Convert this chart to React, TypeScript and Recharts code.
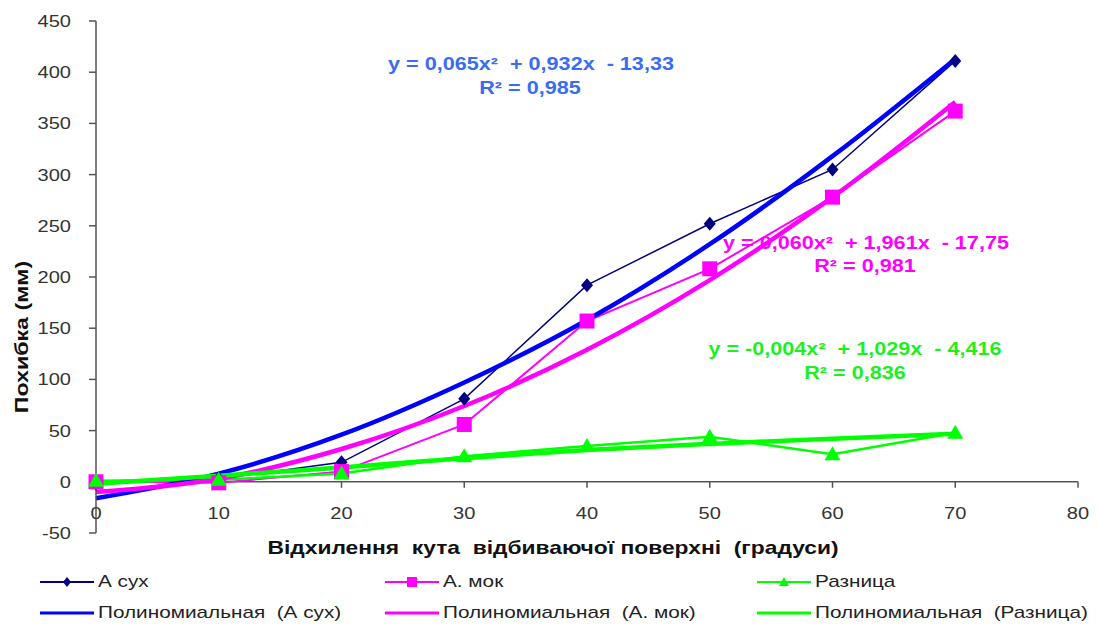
import React from "react";
import { LineChart, Line, XAxis, YAxis, ReferenceLine, ReferenceDot } from "recharts";

const angles = [0, 10, 20, 30, 40, 50, 60, 70];
const aSukh = [-2, 3, 19, 81, 192, 252, 305, 411];
const aMok = [0, -1, 10, 56, 157, 208, 278, 362];
const raznitsa = [1, 2, 8, 25, 35, 44, 27, 48];
// trend curves
const trendSukh = [-16, 8, 46, 97, 158, 232, 318, 413];
const trendMok = [-10, 3, 32, 74, 129, 197, 278, 371];
const trendRazn = [-2, 6, 14, 23, 31, 37, 42, 47];

const xTicks = [0, 10, 20, 30, 40, 50, 60, 70, 80];
const yTicks = [-50, 0, 50, 100, 150, 200, 250, 300, 350, 400, 450];

const data = angles.map((a, i) => ({
  angle: a,
  aSukh: aSukh[i],
  aMok: aMok[i],
  raznitsa: raznitsa[i],
  trendSukh: trendSukh[i],
  trendMok: trendMok[i],
  trendRazn: trendRazn[i],
}));

const FONT = "'Liberation Sans', Arial, sans-serif";
const NAVY = "#000080";
const BLUE = "#0000ff";
const PINK = "#ff00ff";
const GREEN = "#00ff00";

const Diamond = ({ cx, cy }: any) =>
  cx == null ? null : (
    <path d={`M${cx},${cy - 7}L${cx + 6},${cy}L${cx},${cy + 7}L${cx - 6},${cy}Z`} fill={NAVY} />
  );
const Square = ({ cx, cy }: any) =>
  cx == null ? null : <rect x={cx - 7.5} y={cy - 7.5} width={15} height={15} fill={PINK} />;
const Triangle = ({ cx, cy }: any) =>
  cx == null ? null : (
    <path d={`M${cx},${cy - 8}L${cx + 8},${cy + 6}L${cx - 8},${cy + 6}Z`} fill={GREEN} />
  );

const YTick = ({ x, y, payload }: any) => (
  <text
    transform={`translate(${x},${y}) scale(1.18,1)`}
    textAnchor="end"
    dominantBaseline="central"
    fontSize={17}
    fill="#333"
    fontFamily={FONT}
  >
    {payload.value}
  </text>
);

const XTickShape = ({ cx, cy, value }: any) => (
  <g>
    <line x1={cx} x2={cx} y1={cy} y2={cy + 6} stroke="#555" strokeWidth={1.5} />
    <text
      transform={`translate(${cx},${cy + 31}) scale(1.18,1)`}
      textAnchor="middle"
      dominantBaseline="central"
      fontSize={17}
      fill="#333"
      fontFamily={FONT}
    >
      {value}
    </text>
  </g>
);

const legendItems = [
  { label: "А сух", color: NAVY, marker: "diamond", w: 2, col: 40, row: 582 },
  { label: "А. мок", color: PINK, marker: "square", w: 2, col: 385, row: 582 },
  { label: "Разница", color: GREEN, marker: "triangle", w: 2, col: 757, row: 582 },
  { label: "Полиномиальная  (А сух)", color: BLUE, marker: "", w: 3, col: 40, row: 613 },
  { label: "Полиномиальная  (А. мок)", color: PINK, marker: "", w: 3, col: 385, row: 613 },
  { label: "Полиномиальная  (Разница)", color: GREEN, marker: "", w: 3, col: 757, row: 613 },
];

function LegendIcon({ color, marker, w }: any) {
  return (
    <svg width={54} height={14} style={{ display: "block" }}>
      <line x1={0} x2={54} y1={7} y2={7} stroke={color} strokeWidth={w} />
      {marker === "diamond" && <path d="M27,2L31,7L27,12L23,7Z" fill={color} />}
      {marker === "square" && <rect x={22} y={2} width={10} height={10} fill={color} />}
      {marker === "triangle" && <path d="M27,2L32,11L22,11Z" fill={color} />}
    </svg>
  );
}

const eqStyle = (color: string, cx: number, cy: number): React.CSSProperties => ({
  position: "absolute",
  left: cx,
  top: cy,
  transform: "translate(-50%,-50%) scaleX(1.2)",
  color,
  fontFamily: FONT,
  fontWeight: "bold",
  fontSize: 18,
  whiteSpace: "pre",
  lineHeight: 1,
});

export default function App() {
  return (
    <div style={{ position: "absolute", left: 0, top: 0, width: 1098, height: 630, background: "#fff" }}>
      <LineChart width={1098} height={630} data={data} margin={{ top: 21, right: 20, bottom: 97, left: 0 }}>
        <XAxis dataKey="angle" type="number" domain={[0, 80]} ticks={xTicks} hide />
        <YAxis
          type="number"
          domain={[-50, 450]}
          ticks={yTicks}
          interval={0}
          width={96}
          axisLine={{ stroke: "#555", strokeWidth: 1.5 }}
          tickLine={{ stroke: "#555", strokeWidth: 1.5 }}
          tickSize={7}
          tickMargin={18}
          tick={<YTick />}
        />
        <ReferenceLine y={0} stroke="#555" strokeWidth={1.5} />
        {xTicks.map((t) => (
          <ReferenceDot
            key={t}
            x={t}
            y={0}
            r={0}
            ifOverflow="visible"
            shape={(p: any) => <XTickShape {...p} value={t} />}
          />
        ))}
        <Line dataKey="aSukh" stroke={NAVY} strokeWidth={1.5} dot={<Diamond />} isAnimationActive={false} />
        <Line dataKey="aMok" stroke={PINK} strokeWidth={2} dot={<Square />} isAnimationActive={false} />
        <Line dataKey="raznitsa" stroke={GREEN} strokeWidth={2.5} dot={<Triangle />} isAnimationActive={false} />
        <Line type="monotone" dataKey="trendSukh" stroke={BLUE} strokeWidth={4.5} dot={false} isAnimationActive={false} />
        <Line type="monotone" dataKey="trendMok" stroke={PINK} strokeWidth={4.5} dot={false} isAnimationActive={false} />
        <Line type="monotone" dataKey="trendRazn" stroke={GREEN} strokeWidth={4.5} dot={false} isAnimationActive={false} />
      </LineChart>

      <div style={eqStyle("#3a6cf2", 531, 64)}>{"y = 0,065x²  + 0,932x  - 13,33"}</div>
      <div style={eqStyle("#3a6cf2", 530, 88)}>{"R² = 0,985"}</div>
      <div style={eqStyle(PINK, 866, 243)}>{"y = 0,060x²  + 1,961x  - 17,75"}</div>
      <div style={eqStyle(PINK, 865, 266)}>{"R² = 0,981"}</div>
      <div style={eqStyle("#1ef01e", 855, 349)}>{"y = -0,004x²  + 1,029x  - 4,416"}</div>
      <div style={eqStyle("#1ef01e", 855, 373)}>{"R² = 0,836"}</div>

      <div
        style={{
          position: "absolute",
          left: 22,
          top: 337,
          transform: "translate(-50%,-50%) rotate(-90deg) scaleX(1.22)",
          fontFamily: FONT,
          fontWeight: "bold",
          fontSize: 19,
          whiteSpace: "pre",
          color: "#111",
        }}
      >
        Похибка (мм)
      </div>
      <div
        style={{
          position: "absolute",
          left: 553,
          top: 548,
          transform: "translate(-50%,-50%) scaleX(1.2)",
          fontFamily: FONT,
          fontWeight: "bold",
          fontSize: 19,
          whiteSpace: "pre",
          color: "#111",
        }}
      >
        {"Відхилення  кута  відбиваючої поверхні  (градуси)"}
      </div>

      {legendItems.map((it) => (
        <div
          key={it.label}
          style={{ position: "absolute", left: it.col, top: it.row - 9, display: "flex", alignItems: "center", height: 18 }}
        >
          <LegendIcon color={it.color} marker={it.marker} w={it.w} />
          <span
            style={{
              marginLeft: 4,
              fontFamily: FONT,
              fontSize: 17,
              color: "#222",
              whiteSpace: "pre",
              display: "inline-block",
              transformOrigin: "left center",
              transform: "scaleX(1.22)",
            }}
          >
            {it.label}
          </span>
        </div>
      ))}
    </div>
  );
}
